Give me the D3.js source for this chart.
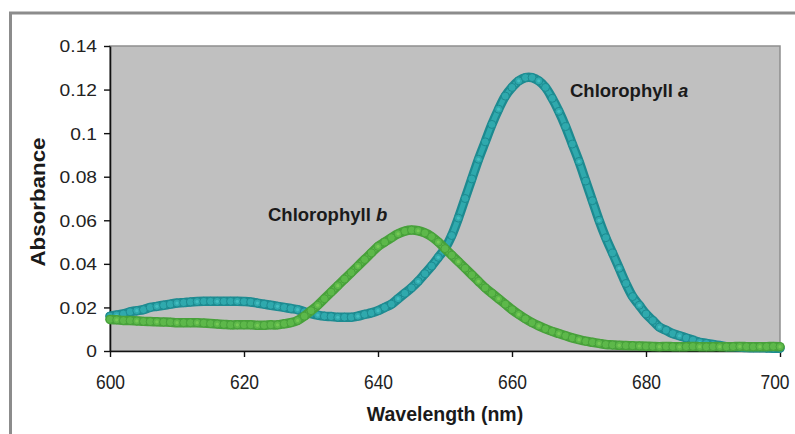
<!DOCTYPE html>
<html><head><meta charset="utf-8">
<script src="https://cdn.jsdelivr.net/npm/d3@7"></script>
<style>html,body{margin:0;padding:0;background:#fff;overflow:hidden}</style>
</head><body>
<svg id="chart" width="795" height="434"></svg>
<script>
const wavelengths = d3.range(600, 701);
const chlA = [
0.016,0.0165,0.017,0.018,0.0185,0.019,0.020,0.0205,0.021,0.0215,
0.022,0.0222,0.0225,0.0227,0.0228,0.0228,0.0228,0.0228,0.0228,0.0228,
0.0227,0.0225,0.022,0.0215,0.021,0.0205,0.020,0.0195,0.019,0.018,
0.0172,0.0165,0.016,0.0158,0.0155,0.0155,0.0155,0.016,0.0168,0.0175,
0.0185,0.020,0.0215,0.024,0.0265,0.029,0.032,0.0355,0.039,0.043,
0.047,0.053,0.061,0.070,0.079,0.088,0.096,0.104,0.111,0.117,
0.121,0.124,0.1255,0.1255,0.124,0.121,0.116,0.110,0.103,0.095,
0.087,0.078,0.069,0.060,0.052,0.045,0.038,0.031,0.025,0.021,
0.017,0.014,0.011,0.0095,0.008,0.007,0.006,0.005,0.004,0.0035,
0.003,0.0025,0.002,0.002,0.0018,0.0016,0.0015,0.0015,0.0014,0.0013,
0.0013];
const chlB = [
0.0145,0.0143,0.014,0.014,0.0138,0.0136,0.0135,0.0134,0.0133,0.0132,
0.013,0.013,0.013,0.013,0.0128,0.0126,0.0124,0.0122,0.012,0.012,
0.012,0.012,0.0118,0.0118,0.012,0.012,0.0125,0.013,0.014,0.016,
0.0185,0.021,0.024,0.027,0.030,0.033,0.036,0.039,0.042,0.045,
0.048,0.050,0.052,0.0538,0.055,0.0555,0.0552,0.0542,0.0525,0.050,
0.047,0.044,0.041,0.038,0.035,0.032,0.029,0.0265,0.024,0.0215,
0.019,0.0168,0.0148,0.013,0.0115,0.0102,0.009,0.008,0.007,0.006,
0.0052,0.0045,0.004,0.0035,0.003,0.0028,0.0026,0.0025,0.0024,0.0023,
0.0022,0.0021,0.002,0.0021,0.002,0.0019,0.002,0.0021,0.002,0.0019,
0.002,0.002,0.0019,0.002,0.0021,0.002,0.0019,0.002,0.002,0.0021,
0.002];
const xTicks = [600, 620, 640, 660, 680, 700];
const yTicks = [0, 0.02, 0.04, 0.06, 0.08, 0.1, 0.12, 0.14];
const yTickLabels = ["0", "0.02", "0.04", "0.06", "0.08", "0.1", "0.12", "0.14"];
const seriesNames = ["Chlorophyll ", "Chlorophyll "];
const seriesItalic = ["a", "b"];

const svg = d3.select("#chart");
const x = d3.scaleLinear().domain([600, 700]).range([110, 780]);
const y = d3.scaleLinear().domain([0, 0.14]).range([351, 46]);

// outer frame
svg.append("rect").attr("x", 10.5).attr("y", 13).attr("width", 800).attr("height", 440)
  .attr("fill", "#fff").attr("stroke", "#8c8c8c").attr("stroke-width", 3);

// plot background
svg.append("rect").attr("x", 110).attr("y", 46).attr("width", 670).attr("height", 305)
  .attr("fill", "#c0c0c0").attr("stroke", "#8e8e8e").attr("stroke-width", 1.5);

// axes
const yAxis = svg.append("g").attr("transform", "translate(110,0)")
  .call(d3.axisLeft(y).tickValues(yTicks).tickFormat((d, i) => yTickLabels[i]).tickSize(6).tickSizeOuter(0).tickPadding(7));
const xAxis = svg.append("g").attr("transform", "translate(0,351)")
  .call(d3.axisBottom(x).tickValues(xTicks).tickFormat(d3.format("d")).tickSize(6).tickSizeOuter(0));

[yAxis, xAxis].forEach(g => {
  g.select(".domain").attr("stroke", "#111").attr("stroke-width", 1.6);
  g.selectAll(".tick line").attr("stroke", "#111").attr("stroke-width", 1.4);
  g.selectAll("text").attr("fill", "#222").attr("font-family", "Liberation Sans, Arial, sans-serif");
});
yAxis.selectAll("text").attr("font-size", 17).attr("x", -13).attr("dy", "0.35em")
  .each(function () { const w = this.getComputedTextLength(); d3.select(this).attr("textLength", w * 1.13).attr("lengthAdjust", "spacingAndGlyphs"); });
xAxis.selectAll("text").attr("font-size", 20).attr("y", 38).attr("dy", 0)
  .each(function () { const w = this.getComputedTextLength(); d3.select(this).attr("textLength", w * 0.87).attr("lengthAdjust", "spacingAndGlyphs"); });
// keep last label inside the window edge
xAxis.selectAll(".tick").filter(d => d === 700).select("text")
  .attr("text-anchor", "end").attr("x", 9);

// series
const series = [
  { values: chlA, dark: "#1d8a90", mid: "#2fa9ad", light: "#48c2c4" },
  { values: chlB, dark: "#47a03a", mid: "#5db84a", light: "#7ccc58" }
];
const line = d3.line().x(d => x(d[0])).y(d => y(d[1])).curve(d3.curveCatmullRom);
series.forEach(s => {
  const pts = wavelengths.map((w, i) => [w, s.values[i]]);
  const g = svg.append("g");
  g.append("path").attr("d", line(pts)).attr("fill", "none")
    .attr("stroke", s.dark).attr("stroke-width", 9.5).attr("stroke-linecap", "round").attr("stroke-linejoin", "round");
  g.append("path").attr("d", line(pts)).attr("fill", "none")
    .attr("stroke", s.mid).attr("stroke-width", 5).attr("stroke-linecap", "round");
  g.selectAll("circle").data(pts).join("circle")
    .attr("cx", d => x(d[0])).attr("cy", d => y(d[1])).attr("r", 4)
    .attr("fill", s.mid).attr("stroke", s.dark).attr("stroke-width", 1);
  g.selectAll("circle.hl").data(pts.filter((d, i) => i % 3 === 1)).join("circle")
    .attr("cx", d => x(d[0])).attr("cy", d => y(d[1])).attr("r", 1.6)
    .attr("fill", s.light).attr("opacity", 0.8);
});

// series labels
const labelPos = [[570, 97], [268, 221]];
labelPos.forEach((p, i) => {
  const t = svg.append("text").attr("x", p[0]).attr("y", p[1])
    .attr("font-family", "Liberation Sans, Arial, sans-serif").attr("font-weight", "bold")
    .attr("font-size", 18.5).attr("fill", "#1a1a1a");
  t.append("tspan").text(seriesNames[i]);
  t.append("tspan").attr("font-style", "italic").text(seriesItalic[i]);
});

// axis titles
svg.append("text").attr("transform", "translate(45,202) rotate(-90)").attr("text-anchor", "middle")
  .attr("font-family", "Liberation Sans, Arial, sans-serif").attr("font-weight", "bold").attr("font-size", 20)
  .attr("fill", "#1a1a1a").attr("textLength", 129).attr("lengthAdjust", "spacingAndGlyphs").text("Absorbance");
svg.append("text").attr("x", 445).attr("y", 421).attr("text-anchor", "middle")
  .attr("font-family", "Liberation Sans, Arial, sans-serif").attr("font-weight", "bold").attr("font-size", 19.5)
  .attr("fill", "#1a1a1a").text("Wavelength (nm)");
</script>
</body></html>
